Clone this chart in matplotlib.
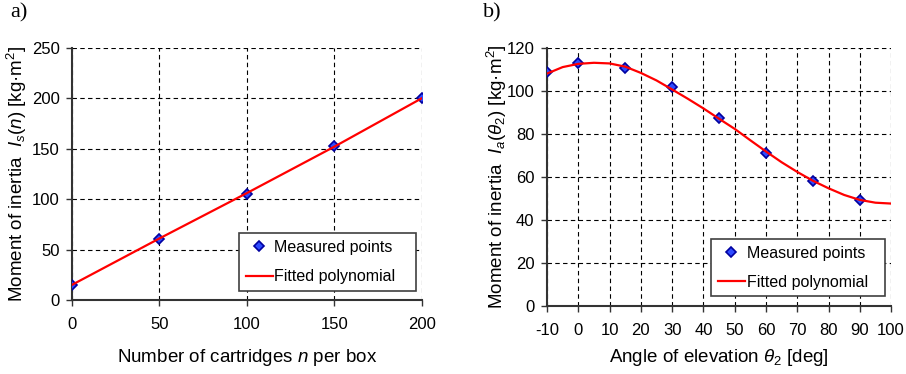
import matplotlib
matplotlib.use('Agg')
import matplotlib.pyplot as plt
import numpy as np

plt.rcParams['font.family'] = ['Liberation Sans', 'DejaVu Sans']
plt.rcParams['mathtext.fontset'] = 'custom'
plt.rcParams['mathtext.rm'] = 'Liberation Sans'
plt.rcParams['mathtext.it'] = 'Liberation Sans:italic'
plt.rcParams['axes.unicode_minus'] = False

# panel a data
n_meas = [0, 50, 100, 150, 200]
Is_meas = [15, 60, 105, 153, 200]
n_fit = [0, 50, 100, 150, 200]
Is_fit = [15, 61, 106, 152, 200]

# panel b data
th_meas = [-10, 0, 15, 30, 45, 60, 75, 90]
Ia_meas = [108.8, 112.7, 110.5, 101.6, 87.5, 71.2, 58.1, 49.3]
th_fit = [-10, -5, 0, 5, 10, 15, 20, 25, 30, 35, 40, 45, 50, 55, 60, 65, 70, 75, 80, 85, 90, 95, 100]
Ia_fit = [108.0, 111.0, 112.5, 113.0, 112.7, 111.2, 108.3, 104.8, 100.6, 96.3, 91.8, 87.0, 82.3,
          77.0, 71.8, 66.8, 62.3, 58.2, 54.7, 51.6, 49.3, 48.0, 47.6]

fig = plt.figure(figsize=(9.06, 3.74), dpi=100)
ax1 = fig.add_axes([0.0795, 0.198, 0.386, 0.674])
ax2 = fig.add_axes([0.6038, 0.1818, 0.3797, 0.6906])

def style(ax):
    ax.grid(True, color='black', linestyle=(0, (4, 3)), linewidth=0.8)
    ax.set_axisbelow(True)
    for s in ['top', 'right']:
        ax.spines[s].set_visible(False)
    for s in ['left', 'bottom']:
        ax.spines[s].set_color('#333333')
        ax.spines[s].set_linewidth(1.5)
    ax.tick_params(direction='out', length=4, width=1, color='#333333', labelsize=12)
    ax.tick_params(axis='x', pad=8)
    ax.tick_params(axis='y', pad=5)

for ax, xm, ym, xf, yf in [(ax1, n_meas, Is_meas, n_fit, Is_fit), (ax2, th_meas, Ia_meas, th_fit, Ia_fit)]:
    style(ax)
    ax.plot(xm, ym, linestyle='none', marker='D', markersize=5.5, markerfacecolor='#2e4bff',
            markeredgecolor='#0000a0', markeredgewidth=1.2, label='Measured points', zorder=3)
    ax.plot(xf, yf, color='#ff0000', linewidth=1.6, label='Fitted polynomial', zorder=4)
    leg = ax.legend(loc='lower left', bbox_to_anchor=(0.478, 0.037, 0.505, 0.235), mode='expand',
                    borderaxespad=0, fontsize=11.5, numpoints=1, handlelength=1.7, handletextpad=0.1,
                    labelspacing=0.9, fancybox=False, shadow=False, framealpha=1)
    leg.get_frame().set_edgecolor('#404040')
    leg.get_frame().set_linewidth(1.2)

ax1.set_xlim(0, 200)
ax1.set_ylim(0, 250)
ax1.set_xticks([0, 50, 100, 150, 200])
ax1.set_yticks([0, 50, 100, 150, 200, 250])
ax1.set_xlabel('Number of cartridges $n$ per box', fontsize=13.5, va='center')
ax1.set_ylabel('Moment of inertia  $I_s(n)$ [kg·m$^2$]', fontsize=13.5, va='center')
ax1.xaxis.set_label_coords(0.5, -0.23)
ax1.yaxis.set_label_coords(-0.157, 0.5)

ax2.set_xlim(-10, 100)
ax2.set_ylim(0, 120)
ax2.set_xticks(range(-10, 101, 10))
ax2.set_yticks(range(0, 121, 20))
ax2.set_xlabel(r'Angle of elevation $\theta_2$ [deg]', fontsize=13.5, va='center')
ax2.set_ylabel(r'Moment of inertia  $I_a(\theta_2)$ [kg·m$^2$]', fontsize=13.5, va='center')
ax2.xaxis.set_label_coords(0.5, -0.20)
ax2.yaxis.set_label_coords(-0.145, 0.5)

fig.text(0.011, 0.965, 'a)', fontsize=16, family='Liberation Serif', va='center')
fig.text(0.533, 0.965, 'b)', fontsize=16, family='Liberation Serif', va='center')

fig.savefig('out.png', dpi=100)
